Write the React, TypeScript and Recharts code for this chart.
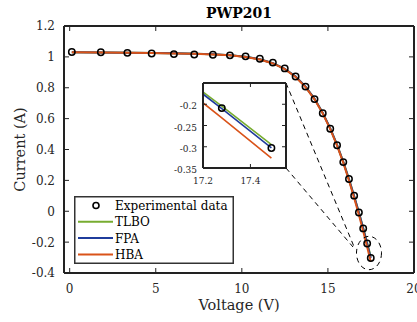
import React from 'react';
import { ComposedChart, LineChart, Line, XAxis, YAxis, ReferenceLine, ReferenceDot, Legend, Label } from 'recharts';

// ---- data ----
const voltage = [0.1248, 1.8093, 3.3511, 4.7622, 6.0538, 7.2364, 8.3189, 9.3097, 10.2163, 11.0449, 11.8018, 12.4929, 13.1231, 13.6983, 14.2221, 14.6995, 15.1346, 15.5311, 15.8929, 16.2229, 16.5241, 16.7987, 17.0499, 17.2793, 17.4885];
const experimental = [1.0315, 1.03, 1.026, 1.022, 1.018, 1.0155, 1.014, 1.01, 1.0035, 0.988, 0.963, 0.9255, 0.8725, 0.8075, 0.7265, 0.6345, 0.5345, 0.4275, 0.3185, 0.2085, 0.101, -0.008, -0.111, -0.209, -0.303];
const tlbo = [1.0302, 1.0284, 1.0266, 1.0248, 1.0229, 1.0203, 1.0166, 1.0105, 1.0004, 0.9841, 0.9589, 0.9222, 0.8722, 0.8072, 0.7283, 0.637, 0.5366, 0.4302, 0.3199, 0.2083, 0.0973, -0.0072, -0.1085, -0.2045, -0.295];
const fpa = [1.0305, 1.0286, 1.0268, 1.025, 1.023, 1.0204, 1.0167, 1.0106, 1.0005, 0.9842, 0.9589, 0.9222, 0.8721, 0.807, 0.728, 0.6366, 0.5361, 0.4296, 0.3192, 0.2075, 0.0963, -0.0088, -0.1118, -0.2102, -0.3028];
const hba = [1.03, 1.0282, 1.0263, 1.0245, 1.0225, 1.0198, 1.016, 1.0098, 0.9995, 0.983, 0.9575, 0.9205, 0.87, 0.8045, 0.725, 0.633, 0.532, 0.4245, 0.313, 0.1995, 0.086, -0.022, -0.13, -0.232, -0.3265];

const xTicks = [0, 5, 10, 15, 20];
const yTicks = [-0.4, -0.2, 0, 0.2, 0.4, 0.6, 0.8, 1, 1.2];
const insetXTicks = [17.2, 17.4];
const insetYTicks = [-0.35, -0.3, -0.25, -0.2];

const seriesNames = ['Experimental data', 'TLBO', 'FPA', 'HBA'];

const rows = voltage.map((v, i) => ({ v, exp: experimental[i], tlbo: tlbo[i], fpa: fpa[i], hba: hba[i] }));

// ---- styles ----
const FONT = 'DejaVu Serif';
const AX = '#222';
const GREEN = '#77AC30';
const BLUE = '#1F3C9C';
const ORANGE = '#D95319';
const seriesColors = ['#000', GREEN, BLUE, ORANGE];

// annotation anchors (data coordinates of the main axes)
const zoomLines = [
  [{ x: 12.565, y: 0.8308 }, { x: 16.573, y: -0.2445 }],
  [{ x: 12.565, y: 0.2802 }, { x: 16.457, y: -0.2316 }],
];
const zoomEllipse = { x: 17.386, y: -0.2705 };

type Side = 'bottom' | 'left' | 'top' | 'right';
function makeTick(side: Side, len: number, fontSize: number, off: number, showLabel: boolean, baseOff: number) {
  return (props: any) => {
    const { x, y, payload } = props;
    const label = String(payload.value);
    if (side === 'bottom') {
      return (
        <g>
          <line x1={x} x2={x} y1={y} y2={y - len} stroke={AX} strokeWidth={1} />
          {showLabel && (
            <text x={x} y={y + off} textAnchor="middle" fontSize={fontSize} fontFamily={FONT} fill="#262626">{label}</text>
          )}
        </g>
      );
    }
    if (side === 'left') {
      return (
        <g>
          <line x1={x} x2={x + len} y1={y} y2={y} stroke={AX} strokeWidth={1} />
          {showLabel && (
            <text x={x - off} y={y + baseOff} textAnchor="end" fontSize={fontSize} fontFamily={FONT} fill="#262626">{label}</text>
          )}
        </g>
      );
    }
    if (side === 'top') {
      return <line x1={x} x2={x} y1={y} y2={y + len} stroke={AX} strokeWidth={1} />;
    }
    return <line x1={x} x2={x - len} y1={y} y2={y} stroke={AX} strokeWidth={1} />;
  };
}

const renderLegend = () => (
  <svg width={160} height={68} style={{ display: 'block' }}>
    <rect x={0.75} y={0.75} width={158.5} height={66.5} fill="#fff" stroke="#333" strokeWidth={1.5} />
    {seriesNames.map((name, i) => {
      const cy = 9.5 + i * 16.3;
      return (
        <g key={name}>
          {i === 0 ? (
            <circle cx={22} cy={cy} r={3} fill="none" stroke="#000" strokeWidth={1.6} />
          ) : (
            <line x1={4} x2={39} y1={cy} y2={cy} stroke={seriesColors[i]} strokeWidth={2} />
          )}
          <text x={41} y={cy + 4.4} fontSize={12} fontFamily={FONT} fill="#000">{name}</text>
        </g>
      );
    })}
  </svg>
);

const expDot = { r: 3.2, stroke: '#000', strokeWidth: 1.5, fill: 'none' };

export default function App() {
  return (
    <div style={{ position: 'fixed', left: 0, top: 0, width: 417, height: 322, background: '#fff' }}>
      <ComposedChart width={417} height={322} data={rows} margin={{ top: 25, right: 2, bottom: 0, left: 0 }}>
        <XAxis
          dataKey="v"
          type="number"
          domain={[-0.33, 20]}
          ticks={xTicks}
          interval={0}
          allowDataOverflow
          height={49}
          tickSize={0}
          tickMargin={0}
          tickLine={false}
          axisLine={{ stroke: AX, strokeWidth: 2 }}
          tick={makeTick('bottom', 5, 12, 20, true, 0)}
        >
          <Label value="Voltage (V)" position="insideBottom" offset={12} fontSize={14.5} fontFamily={FONT} fill="#262626" />
        </XAxis>
        <XAxis
          xAxisId="top"
          orientation="top"
          dataKey="v"
          type="number"
          domain={[-0.33, 20]}
          ticks={xTicks}
          interval={0}
          allowDataOverflow
          height={1}
          tickSize={0}
          tickMargin={0}
          tickLine={false}
          axisLine={{ stroke: AX, strokeWidth: 2 }}
          tick={makeTick('top', 5, 12, 0, false, 0)}
        >
          <Label value="PWP201" position="top" offset={7} fontSize={14} fontWeight="bold" fontFamily={FONT} fill="#000" />
        </XAxis>
        <YAxis
          type="number"
          domain={[-0.4, 1.2]}
          ticks={yTicks}
          interval={0}
          allowDataOverflow
          width={64}
          tickSize={0}
          tickMargin={0}
          tickLine={false}
          axisLine={{ stroke: AX, strokeWidth: 2 }}
          tick={makeTick('left', 5, 12, 9, true, 4.4)}
        >
          <Label value="Current (A)" angle={-90} position="insideLeft" offset={20} fontSize={14.5} fontFamily={FONT} fill="#262626" style={{ textAnchor: 'middle' }} />
        </YAxis>
        <YAxis
          yAxisId="right"
          orientation="right"
          type="number"
          domain={[-0.4, 1.2]}
          ticks={yTicks}
          interval={0}
          allowDataOverflow
          width={1}
          tickSize={0}
          tickMargin={0}
          tickLine={false}
          axisLine={{ stroke: AX, strokeWidth: 2 }}
          tick={makeTick('right', 5, 12, 0, false, 0)}
        />
        {zoomLines.map((seg, i) => (
          <ReferenceLine key={i} segment={seg} stroke="#000" strokeWidth={1} strokeDasharray="5 4" ifOverflow="visible" />
        ))}
        <ReferenceDot
          x={zoomEllipse.x}
          y={zoomEllipse.y}
          ifOverflow="visible"
          shape={(p: any) => (
            <ellipse cx={p.cx} cy={p.cy} rx={12.5} ry={16.7} fill="none" stroke="#000" strokeWidth={1} strokeDasharray="5 4" />
          )}
        />
        <Line dataKey="exp" stroke="none" dot={expDot} activeDot={false} isAnimationActive={false} legendType="none" />
        <Line dataKey="tlbo" stroke={GREEN} strokeWidth={2} dot={false} activeDot={false} isAnimationActive={false} />
        <Line dataKey="fpa" stroke={BLUE} strokeWidth={2} dot={false} activeDot={false} isAnimationActive={false} />
        <Line dataKey="hba" stroke={ORANGE} strokeWidth={2} dot={false} activeDot={false} isAnimationActive={false} />
        <Legend
          layout="vertical"
          align="center"
          verticalAlign="middle"
          content={renderLegend}
          wrapperStyle={{ position: 'absolute', left: 74, top: 196, width: 160, height: 68 }}
        />
      </ComposedChart>

      <div style={{ position: 'absolute', left: 203, top: 83, width: 83, height: 85, background: '#fff' }} />
      <div style={{ position: 'absolute', left: 151, top: 79 }}>
        <LineChart width={138} height={110} data={rows} margin={{ top: 3, right: 2, bottom: 0, left: 0 }}>
          <XAxis
            dataKey="v"
            type="number"
            domain={[17.2, 17.55]}
            ticks={insetXTicks}
            interval={0}
            allowDataOverflow
            height={21}
            tickSize={0}
            tickMargin={0}
            tickLine={false}
            axisLine={{ stroke: AX, strokeWidth: 2 }}
            tick={makeTick('bottom', 4, 9, 16, true, 0)}
          />
          <XAxis
            xAxisId="top"
            orientation="top"
            dataKey="v"
            type="number"
            domain={[17.2, 17.55]}
            ticks={insetXTicks}
            interval={0}
            allowDataOverflow
            height={1}
            tickSize={0}
            tickMargin={0}
            tickLine={false}
            axisLine={{ stroke: AX, strokeWidth: 2 }}
            tick={makeTick('top', 4, 9, 0, false, 0)}
          />
          <YAxis
            type="number"
            domain={[-0.35, -0.15]}
            ticks={insetYTicks}
            interval={0}
            allowDataOverflow
            width={52}
            tickSize={0}
            tickMargin={0}
            tickLine={false}
            axisLine={{ stroke: AX, strokeWidth: 2 }}
            tick={makeTick('left', 4, 9, 6, true, 5)}
          />
          <YAxis
            yAxisId="right"
            orientation="right"
            type="number"
            domain={[-0.35, -0.15]}
            ticks={insetYTicks}
            interval={0}
            allowDataOverflow
            width={1}
            tickSize={0}
            tickMargin={0}
            tickLine={false}
            axisLine={{ stroke: AX, strokeWidth: 2 }}
            tick={makeTick('right', 4, 9, 0, false, 0)}
          />
          <Line dataKey="exp" stroke="none" dot={expDot} activeDot={false} isAnimationActive={false} />
          <Line dataKey="tlbo" stroke={GREEN} strokeWidth={1.6} dot={false} activeDot={false} isAnimationActive={false} />
          <Line dataKey="fpa" stroke={BLUE} strokeWidth={1.6} dot={false} activeDot={false} isAnimationActive={false} />
          <Line dataKey="hba" stroke={ORANGE} strokeWidth={1.6} dot={false} activeDot={false} isAnimationActive={false} />
        </LineChart>
      </div>
    </div>
  );
}
